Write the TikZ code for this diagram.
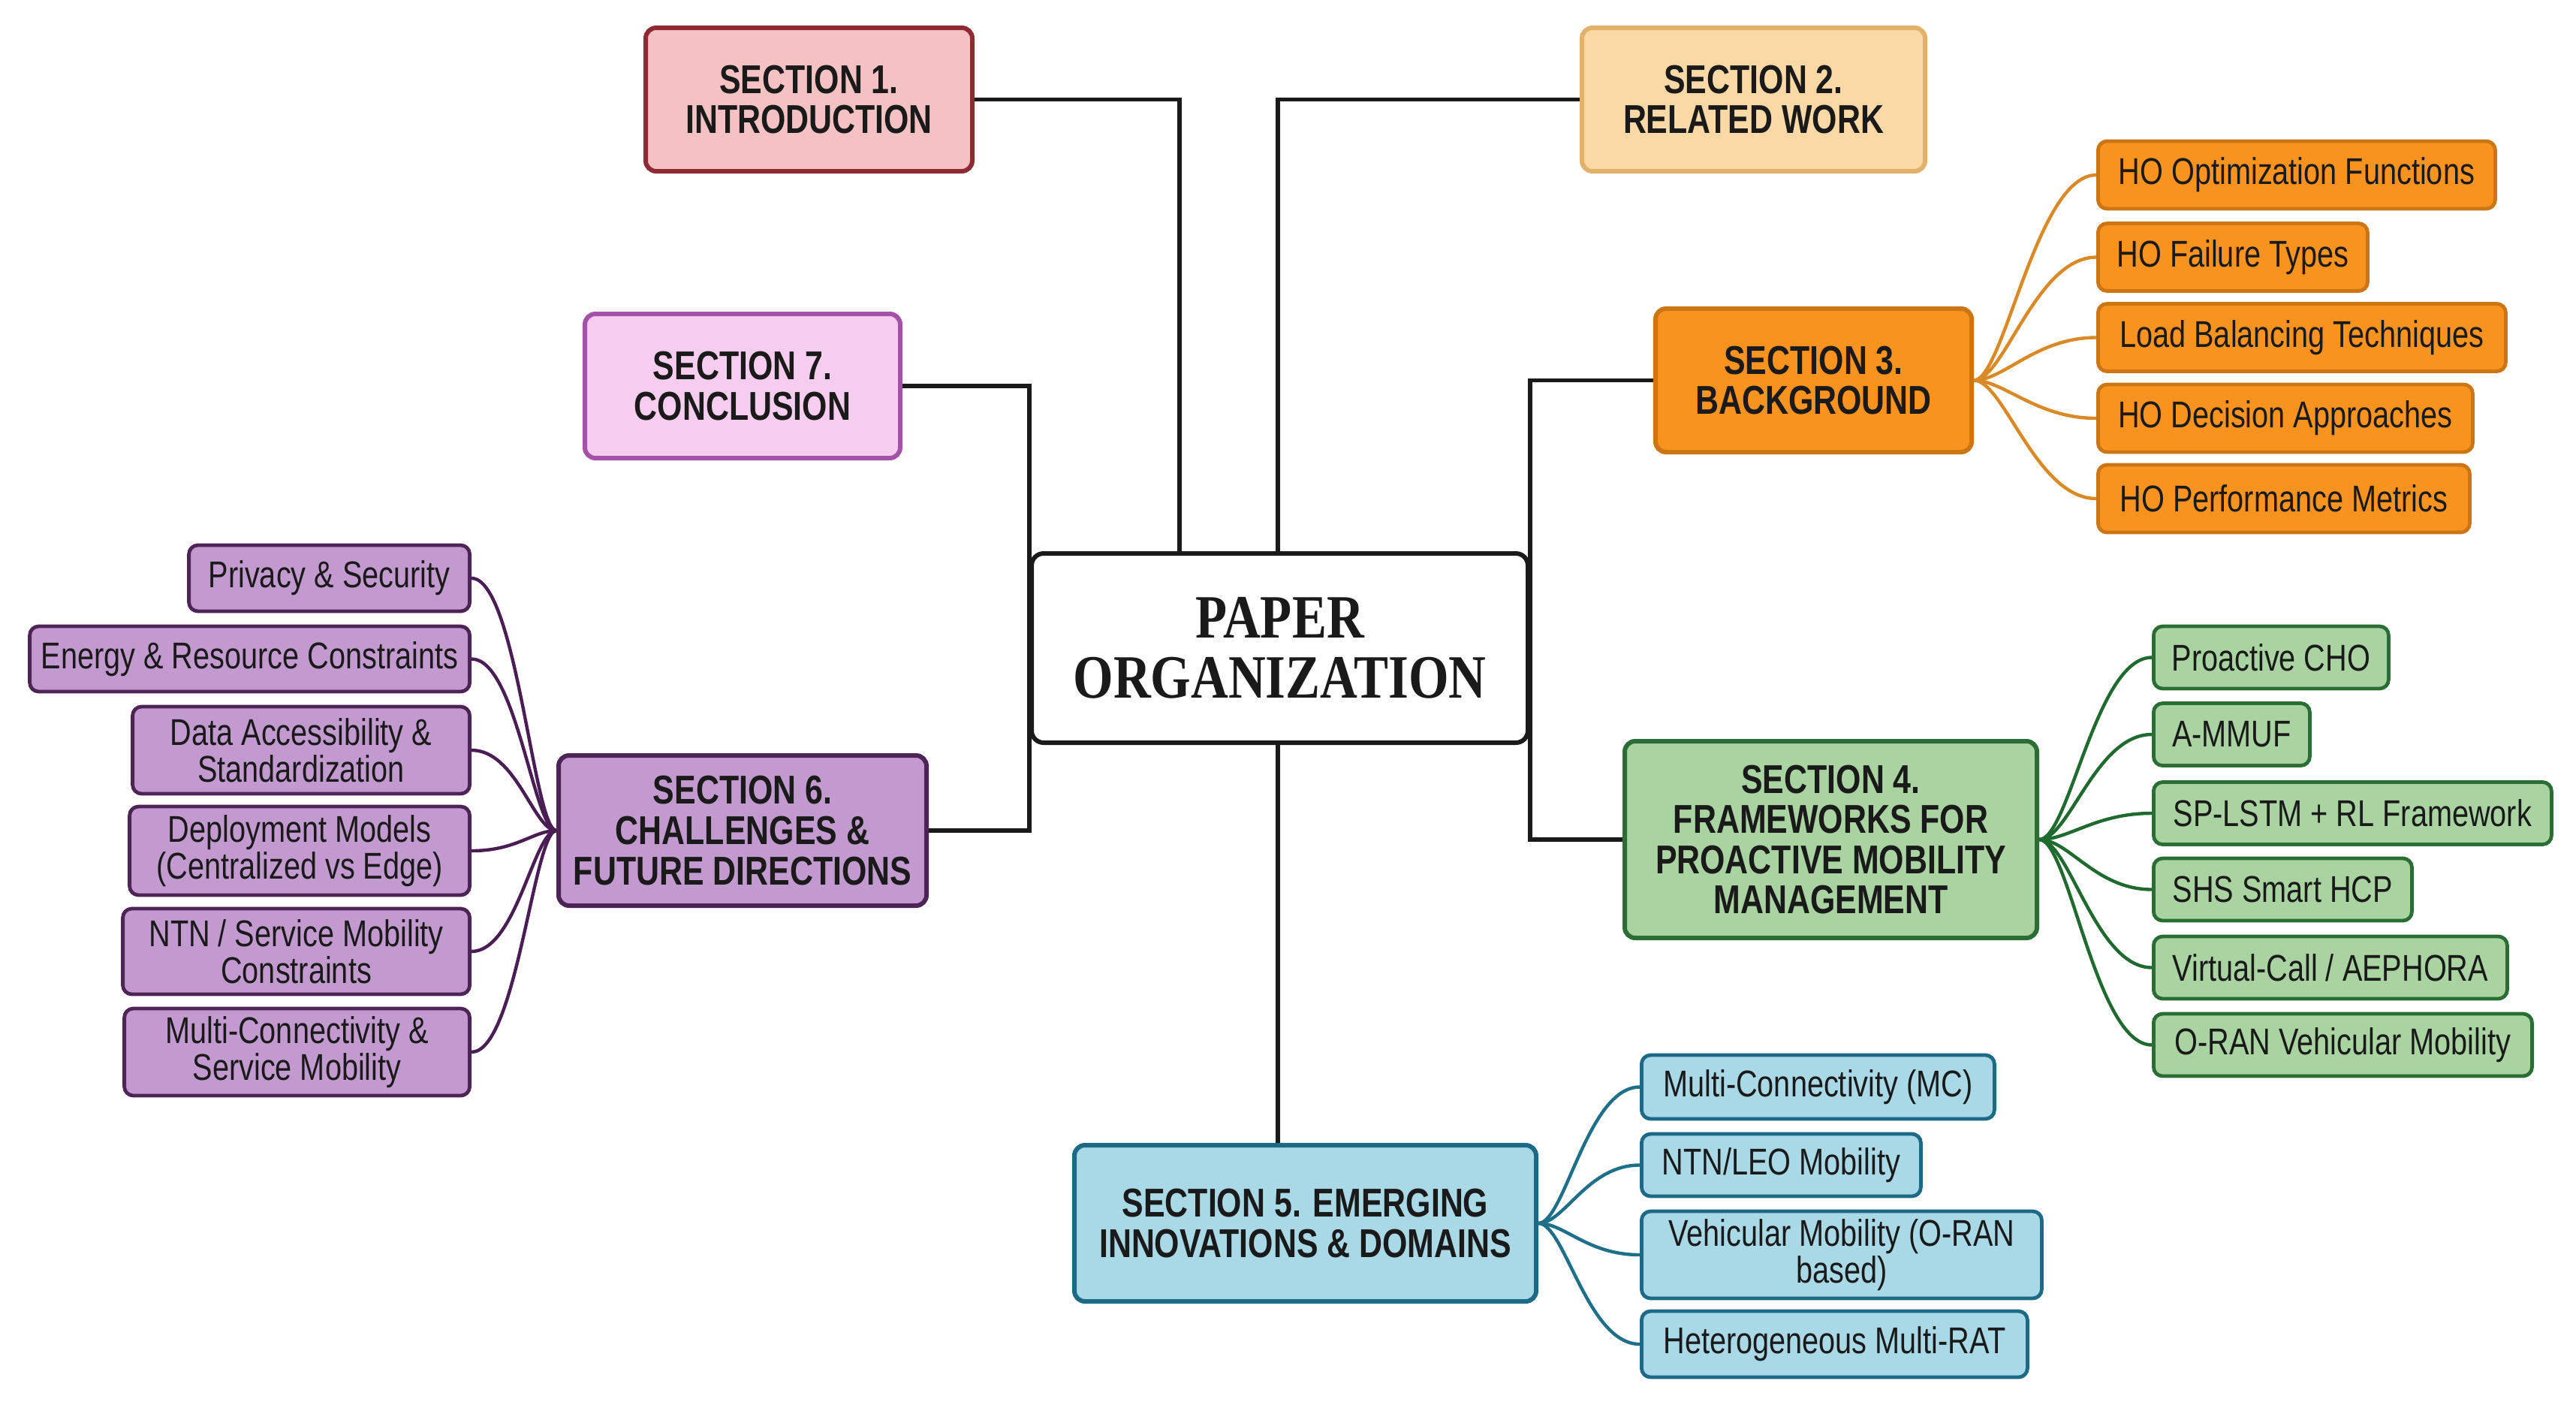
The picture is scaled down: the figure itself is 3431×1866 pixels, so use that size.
\documentclass[tikz,border=0pt]{standalone}
\usepackage{fontspec}
\setmainfont{Liberation Sans}
\newfontfamily\condfont[FakeStretch=0.80]{Liberation Sans}
\newfontfamily\titlefont[FakeStretch=0.84]{Liberation Serif}
\definecolor{redfill}{HTML}{F4C2C2}
\definecolor{reddraw}{HTML}{8E2A33}
\definecolor{peachfill}{HTML}{FBD9A6}
\definecolor{peachdraw}{HTML}{E3B26A}
\definecolor{pinkfill}{HTML}{F6CDEE}
\definecolor{pinkdraw}{HTML}{A452A8}
\definecolor{orfill}{HTML}{F8931F}
\definecolor{ordraw}{HTML}{CC7514}
\definecolor{orline}{HTML}{D98A26}
\definecolor{grfill}{HTML}{A9D3A0}
\definecolor{grdraw}{HTML}{2B6E35}
\definecolor{grline}{HTML}{1F6B2F}
\definecolor{blfill}{HTML}{A9D8E6}
\definecolor{bldraw}{HTML}{1C6A85}
\definecolor{blline}{HTML}{1E6F8A}
\definecolor{pufill}{HTML}{C29ACF}
\definecolor{pudraw}{HTML}{4D2456}
\definecolor{puline}{HTML}{4A1E55}
\definecolor{ink}{HTML}{1A1A1A}
\begin{document}
\begin{tikzpicture}[x=0.25pt,y=-0.25pt,
  secbox/.style={draw, rounded corners=3.5pt, line width=1.5pt, align=center,
    font=\condfont\bfseries\fontsize{13.4}{13.4}\selectfont, text=ink, inner sep=0pt},
  leaf/.style={draw, rounded corners=3pt, line width=1.2pt, align=center,
    font=\condfont\fontsize{12.4}{12.2}\selectfont, text=ink, inner sep=0pt},
  oleaf/.style={leaf, fill=orfill, draw=ordraw, minimum height=22.5pt, anchor=west},
  gleaf/.style={leaf, fill=grfill, draw=grdraw, minimum height=20.75pt, anchor=west},
  bleaf/.style={leaf, fill=blfill, draw=bldraw, anchor=west},
  pleaf/.style={leaf, fill=pufill, draw=pudraw, anchor=east},
  trunk/.style={line width=1.3pt, draw=ink},
  olink/.style={line width=1.1pt, draw=orline},
  glink/.style={line width=1.1pt, draw=grline},
  blink/.style={line width=1.1pt, draw=blline},
  plink/.style={line width=1.1pt, draw=puline}]
\fill[white] (0,0) rectangle (3431,1866);
\useasboundingbox (0,0) rectangle (3431,1866);

% central
\node[draw=ink, line width=1.5pt, rounded corners=4pt, fill=white, align=center,
  minimum width=165.25pt, minimum height=63pt, inner sep=0pt,
  font=\titlefont\bfseries\fontsize{20.5}{20}\selectfont, text=ink]
  (c) at (1704.5,863) {PAPER\\ORGANIZATION};

% sections
\node[secbox, fill=redfill, draw=reddraw, minimum width=108.75pt, minimum height=47.75pt]
  (s1) at (1077.5,132.5) {SECTION 1.\\INTRODUCTION};
\node[secbox, fill=peachfill, draw=peachdraw, minimum width=114.25pt, minimum height=47.75pt]
  (s2) at (2335.5,132.5) {SECTION 2.\\RELATED WORK};
\node[secbox, fill=pinkfill, draw=pinkdraw, minimum width=105pt, minimum height=48pt]
  (s7) at (989,514) {SECTION 7.\\CONCLUSION};
\node[secbox, fill=orfill, draw=ordraw, minimum width=105.25pt, minimum height=47.75pt]
  (s3) at (2415.5,506.5) {SECTION 3.\\BACKGROUND};
\node[secbox, fill=grfill, draw=grdraw, minimum width=137.25pt, minimum height=65.5pt]
  (s4) at (2438.5,1118) {SECTION 4.\\FRAMEWORKS FOR\\PROACTIVE MOBILITY\\MANAGEMENT};
\node[secbox, fill=blfill, draw=bldraw, minimum width=153.75pt, minimum height=52pt]
  (s5) at (1738.5,1629) {SECTION 5. EMERGING\\INNOVATIONS \& DOMAINS};
\node[secbox, fill=pufill, draw=pudraw, minimum width=122.5pt, minimum height=50pt]
  (s6) at (989,1106) {SECTION 6.\\CHALLENGES \&\\FUTURE DIRECTIONS};

% trunk connectors
\coordinate (k1) at (1571,0);
\coordinate (k2) at (1702,0);
\draw[trunk] (s1.east) -| (k1 |- c.north);
\draw[trunk] (s2.west) -| (k2 |- c.north);
\draw[trunk] (s7.east) -| (c.west);
\draw[trunk] (s6.east) -| (c.west);
\draw[trunk] (s3.west) -| (c.east);
\draw[trunk] (s4.west) -| (c.east);
\draw[trunk] (k2 |- c.south) -- (k2 |- s5.north);

% section 3 leaves
\node[oleaf, minimum width=132.25pt] (o1) at (2792,233) {HO Optimization Functions};
\node[oleaf, minimum width=89.75pt] (o2) at (2792,342.5) {HO Failure Types};
\node[oleaf, minimum width=135.75pt] (o3) at (2792,449.5) {Load Balancing Techniques};
\node[oleaf, minimum width=124.75pt] (o4) at (2792,557) {HO Decision Approaches};
\node[oleaf, minimum width=123.75pt] (o5) at (2792,664) {HO Performance Metrics};
\foreach \n in {o1,o2,o3,o4,o5}
  \draw[olink] (s3.east) .. controls +(40,0) and +(-80,0) .. (\n.west);

% section 4 leaves
\node[gleaf, minimum width=78.25pt] (g1) at (2866,875.5) {Proactive CHO};
\node[gleaf, minimum width=52pt] (g2) at (2866,978) {A-MMUF};
\node[gleaf, minimum width=132.5pt] (g3) at (2866,1083) {SP-LSTM + RL Framework};
\node[gleaf, minimum width=86pt] (g4) at (2866,1184.5) {SHS Smart HCP};
\node[gleaf, minimum width=117.75pt] (g5) at (2866,1288.5) {Virtual-Call / AEPHORA};
\node[gleaf, minimum width=126pt] (g6) at (2866,1391.5) {O-RAN Vehicular Mobility};
\foreach \n in {g1,g2,g3,g4,g5,g6}
  \draw[glink] (s4.east) .. controls +(40,0) and +(-75,0) .. (\n.west);

% section 5 leaves
\node[bleaf, minimum width=117.5pt, minimum height=21.25pt] (b1) at (2184,1447.5) {Multi-Connectivity (MC)};
\node[bleaf, minimum width=93pt, minimum height=20.75pt] (b2) at (2184,1551.5) {NTN/LEO Mobility};
\node[bleaf, minimum width=133.25pt, minimum height=29pt] (b3) at (2184,1671) {Vehicular Mobility (O-RAN\\based)};
\node[bleaf, minimum width=128.5pt, minimum height=22pt] (b4) at (2184,1790) {Heterogeneous Multi-RAT};
\foreach \n in {b1,b2,b3,b4}
  \draw[blink] (s5.east) .. controls +(35,0) and +(-70,0) .. (\n.west);

% section 6 leaves
\node[pleaf, minimum width=93.5pt, minimum height=22pt] (p1) at (628,770) {Privacy \& Security};
\node[pleaf, minimum width=146.5pt, minimum height=21.75pt] (p2) at (628,877.5) {Energy \& Resource Constraints};
\node[pleaf, minimum width=112.25pt, minimum height=29pt] (p3) at (628,999) {Data Accessibility \&\\Standardization};
\node[pleaf, minimum width=113.25pt, minimum height=29.5pt] (p4) at (628,1133) {Deployment Models\\(Centralized vs Edge)};
\node[pleaf, minimum width=115.5pt, minimum height=28.5pt] (p5) at (628,1267) {NTN / Service Mobility\\Constraints};
\node[pleaf, minimum width=115pt, minimum height=29pt] (p6) at (628,1401) {Multi-Connectivity \&\\Service Mobility};
\foreach \n in {p1,p2,p3,p4,p5,p6}
  \draw[plink] (s6.west) .. controls +(-30,0) and +(60,0) .. (\n.east);
\end{tikzpicture}
\end{document}
